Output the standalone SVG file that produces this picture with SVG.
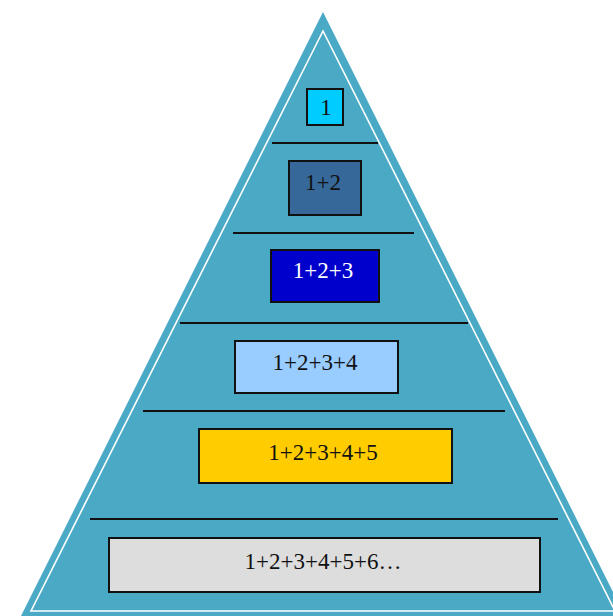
<svg xmlns="http://www.w3.org/2000/svg" width="613" height="616" viewBox="0 0 613 616">
<style>
.div{stroke:#111;stroke-width:2}
.box{stroke:#111;stroke-width:2}
.t{font-family:"Liberation Serif","Times New Roman",serif;font-size:23px;text-anchor:middle;fill:#111}
</style>
<rect width="613" height="616" fill="#ffffff"/>
<g id="pyramid">
<polygon points="323,12 20,618 626,618" fill="#4aaac5"/>
<polygon points="323,31 31,611 615,611" fill="none" stroke="#ffffff" stroke-width="1.6"/>
</g>
<g id="connectors">
<line class="div" x1="272" y1="143" x2="378" y2="143"/>
<line class="div" x1="233" y1="233" x2="414" y2="233"/>
<line class="div" x1="180" y1="323" x2="468" y2="323"/>
<line class="div" x1="143" y1="411" x2="505" y2="411"/>
<line class="div" x1="90" y1="519" x2="558" y2="519"/>
</g>
<g id="n1"><rect class="box" x="307" y="89" width="36" height="36" fill="#00ccff"/><text class="t" x="326" y="115">1</text></g>
<g id="n2"><rect class="box" x="289" y="161" width="72" height="54" fill="#36699a"/><text class="t" x="323" y="190">1+2</text></g>
<g id="n3"><rect class="box" x="271" y="250" width="108" height="52" fill="#0000cc"/><text class="t" x="323" y="278" style="fill:#ffffff">1+2+3</text></g>
<g id="n4"><rect class="box" x="235" y="341" width="163" height="52" fill="#99ccff"/><text class="t" x="315" y="370">1+2+3+4</text></g>
<g id="n5"><rect class="box" x="199" y="429" width="253" height="54" fill="#ffcc00"/><text class="t" x="323" y="460">1+2+3+4+5</text></g>
<g id="n6"><rect class="box" x="109" y="538" width="431" height="54" fill="#dddddd"/><text class="t" x="323" y="569">1+2+3+4+5+6…</text></g>
</svg>
